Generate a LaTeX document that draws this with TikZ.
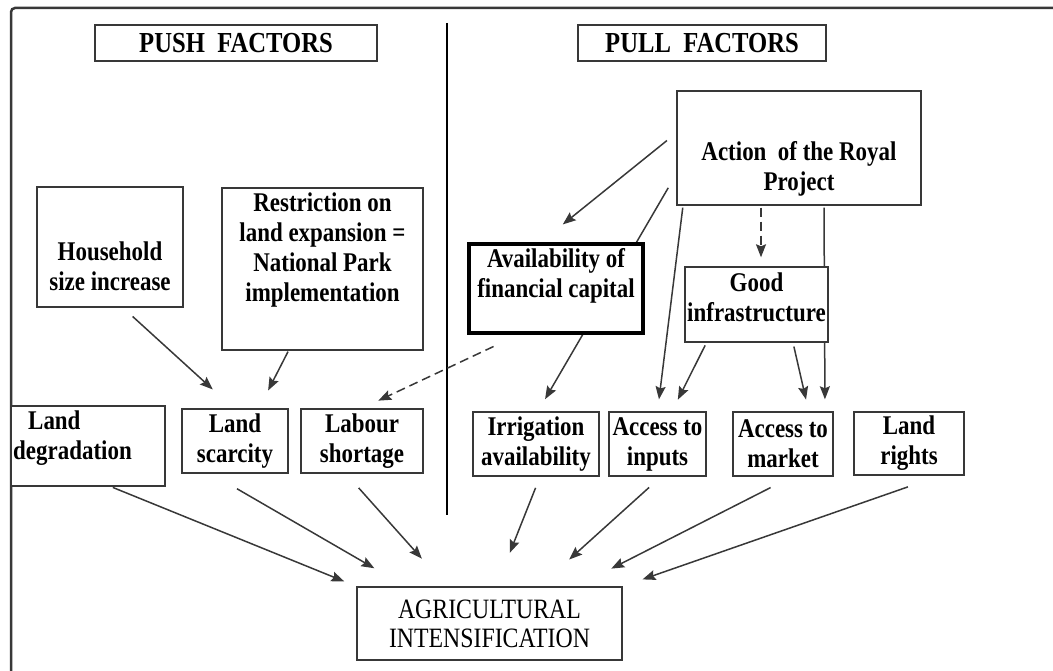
\documentclass[tikz,border=0pt]{standalone}
\usepackage{fontspec}
\setmainfont{Liberation Serif}[FakeStretch=0.85]
\usetikzlibrary{arrows.meta}
\definecolor{linegray}{gray}{0.22}

\begin{document}
\begin{tikzpicture}[x=1pt, y=-1pt,
  box/.style={draw=linegray, line width=1.4pt, fill=white, inner sep=1pt, align=center,
    font=\fontsize{27}{30}\selectfont\bfseries},
  txt/.style={inner sep=0pt, align=center, font=\fontsize{27}{30}\selectfont\bfseries},
  title/.style={box, font=\fontsize{29}{32}\selectfont\bfseries},
  arr/.style={draw=linegray, line width=1.5pt, -{Stealth[length=13pt, width=10pt, inset=2pt]}},
  dasharr/.style={arr, dash pattern=on 9pt off 5pt}]

\useasboundingbox (0,0) rectangle (1053,671);

% ---------- frame and divider ----------
\draw[linegray, line width=2.5pt, rounded corners=4pt] (11,671) -- (11,8) -- (1053,8);
\draw[black, line width=2.5pt] (447,23) -- (447,515);

\node[title, minimum width=282, minimum height=36] (push) at (236,43) {PUSH\ \ FACTORS};
\node[title, minimum width=248, minimum height=36] (pull) at (702,43) {PULL\ \ FACTORS};

% ---------- push side ----------
\node[box, minimum width=146, minimum height=120] (house) at (110,247) {};
\node[txt] (house-t) at (110,266) {Household\\size increase};

\node[box, minimum width=201, minimum height=162] (restr) at (322.5,269) {};
\node[txt] (restr-t) at (322.5,250) {Restriction on\\land expansion =\\National Park\\implementation};

\node[box, minimum width=154, minimum height=80] (ldeg) at (88,446) {};
\node[txt, align=left, anchor=west] (ldeg-t) at (13,438) {\hspace*{15pt}Land\\degradation};

\node[box, minimum width=106, minimum height=64] (scar) at (235,441) {Land\\scarcity};
\node[box, minimum width=122, minimum height=64] (labr) at (362,441) {Labour\\shortage};

% ---------- pull side ----------
\node[box, minimum width=244, minimum height=114] (action) at (799,148) {};
\node[txt] (action-t) at (799,169) {Action\ \ of the Royal\\Project};

\node[box, minimum width=126, minimum height=64] (irr) at (536,444) {Irrigation\\availability};
\node[box, minimum width=97, minimum height=64] (inp) at (657.5,444) {Access to\\inputs};
\node[box, minimum width=100, minimum height=64] (mkt) at (783,444) {Access to\\market};
\node[box, minimum width=110, minimum height=63] (rights) at (909,443.5) {Land\\rights};

\node[box, font=\fontsize{28}{29}\selectfont, minimum width=265, minimum height=73] (agri) at (489.5,623.5) {AGRICULTURAL\\INTENSIFICATION};

% these two run behind the capital and infrastructure boxes
\draw[arr, shorten <=16pt, shorten >=14pt] ([yshift=-26pt]action.west) -- ([xshift=2pt]irr.north);
\draw[arr, shorten <=2pt, shorten >=12pt] ([xshift=25pt]action.south) -- ([xshift=42pt]mkt.north);

\node[box, draw=black, line width=4pt, minimum width=174, minimum height=89] (avail) at (556,288.5) {};
\node[txt] (avail-t) at (556,276) {Availability of\\financial capital};

\node[box, minimum width=143, minimum height=75] (good) at (756.5,304.5) {};
\node[txt] (good-t) at (756.5,297) {Good\\infrastructure};

% ---------- arrows ----------
\draw[arr, shorten <=13pt, shorten >=28pt] ([xshift=13pt]house.south) -- ([xshift=-1.5pt]scar.north);
\draw[arr, shorten <=1pt, shorten >=20pt] ([xshift=-34pt]restr.south) -- ([xshift=24pt]scar.north);
\draw[dasharr, shorten <=27pt, shorten >=18pt] ([xshift=-38pt]avail.south) -- (labr.north);

\draw[arr, shorten <=2pt, shorten >=13pt] ([xshift=23pt]ldeg.south) -- (agri.north west);
\draw[arr, shorten <=30pt, shorten >=36pt] ([xshift=-24pt]scar.south) -- ([xshift=-84pt]agri.north);
\draw[arr, shorten <=19pt, shorten >=37pt] ([xshift=-16pt]labr.south) -- ([xshift=-43pt]agri.north);
\draw[arr, shorten <=12pt, shorten >=36pt] ([xshift=4pt]irr.south) -- ([xshift=7pt]agri.north);
\draw[arr, shorten <=16pt, shorten >=40pt] ([xshift=3.5pt]inp.south) -- ([xshift=50pt]agri.north);
\draw[arr, shorten <=24pt, shorten >=39pt] ([xshift=9pt]mkt.south) -- ([xshift=87pt]agri.north);
\draw[arr, shorten <=34pt, shorten >=21pt] ([xshift=31pt]rights.south) -- (agri.north east);

\draw[arr, shorten <=12pt, shorten >=28pt] ([yshift=15pt]action.west) -- ([xshift=-15pt]avail.north);
\draw[arr, shorten <=2pt, shorten >=12pt] ([xshift=-116pt]action.south) -- (inp.north);
\draw[dasharr, shorten <=2pt, shorten >=9pt] ([xshift=-38pt]action.south) -- ([xshift=4.5pt]good.north);
\draw[arr, shorten <=3pt, shorten >=13pt] ([xshift=-50pt]good.south) -- ([xshift=14.5pt]inp.north);
\draw[arr, shorten <=4pt, shorten >=12pt] ([xshift=36.5pt]good.south) -- ([xshift=25.7pt]mkt.north);

\end{tikzpicture}
\end{document}
